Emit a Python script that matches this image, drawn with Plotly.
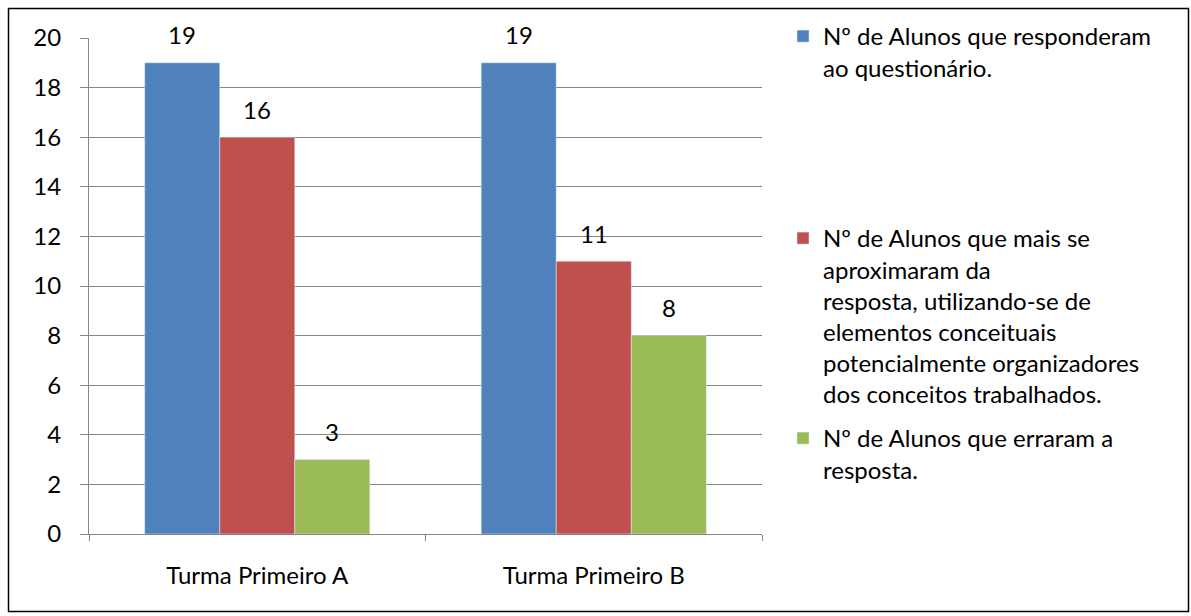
import plotly.graph_objects as go

# Turmas avaliadas
turmas = ["Turma Primeiro A", "Turma Primeiro B"]

# Séries de respostas por turma
responderam = [19, 19]
aproximaram = [16, 11]
erraram = [3, 8]

nomes = [
    "Nº de Alunos que responderam<br>ao questionário.",
    "Nº de Alunos que mais se<br>aproximaram da<br>resposta, utilizando-se de<br>elementos conceituais<br>potencialmente organizadores<br>dos conceitos trabalhados.",
    "Nº de Alunos que erraram a<br>resposta.",
]
cores = ["#4F81BD", "#C0504D", "#9BBB59"]
series = [responderam, aproximaram, erraram]

FONT = "Lato"
FS = 24
W, H = 1191, 616
ML, MR, MT, MB = 89, 429, 38, 82
BARGAP = 0.331

fig = go.Figure()
for i, (vals, nome, cor) in enumerate(zip(series, nomes, cores)):
    fig.add_trace(go.Bar(
        x=turmas, y=vals, name=nome, marker_color=cor, showlegend=True,
        legend=["legend", "legend2", "legend3"][i],
    ))

# Rótulos de valor acima de cada barra
plot_w = W - ML - MR
bar_px = plot_w / len(turmas) * (1 - BARGAP) / len(series)
annotations = []
for i, vals in enumerate(series):
    for t, v in zip(turmas, vals):
        annotations.append(dict(
            x=t, y=v, xref="x", yref="y", text=str(v), showarrow=False,
            xshift=(i - 1) * bar_px, yshift=28, yanchor="middle",
            font=dict(family=FONT, size=FS, color="black"),
        ))

plot_h = H - MT - MB
def px_to_paper_x(px):
    return (px - ML) / plot_w
def px_to_paper_y(py):
    return (H - MB - py) / plot_h

legend_common = dict(
    font=dict(family=FONT, size=FS, color="black"),
    bgcolor="rgba(0,0,0,0)", xanchor="left", yanchor="top",
    valign="top", itemclick=False, visible=True,
)

fig.update_layout(
    width=W, height=H,
    margin=dict(l=ML, r=MR, t=MT, b=MB),
    paper_bgcolor="white", plot_bgcolor="white",
    barmode="group", bargap=BARGAP, bargroupgap=0,
    showlegend=True,
    font=dict(family=FONT, size=FS, color="black"),
    annotations=annotations,
    legend=dict(x=px_to_paper_x(783), y=px_to_paper_y(14), **legend_common),
    legend2=dict(x=px_to_paper_x(783), y=px_to_paper_y(216), **legend_common),
    legend3=dict(x=px_to_paper_x(783), y=px_to_paper_y(416), **legend_common),
    xaxis=dict(
        showline=True, linecolor="#868686", linewidth=1,
        ticks="outside", tickson="boundaries", ticklen=6, tickcolor="#868686",
        ticklabelstandoff=20, showgrid=False,
        tickfont=dict(family=FONT, size=FS, color="black"),
    ),
    yaxis=dict(
        range=[0, 20], dtick=2, showgrid=True, gridcolor="#868686", gridwidth=1,
        showline=True, linecolor="#868686", linewidth=1,
        ticks="outside", ticklen=8, tickcolor="#868686",
        ticklabelstandoff=14, zeroline=False,
        tickfont=dict(family=FONT, size=FS, color="black"),
    ),
    shapes=[dict(
        type="rect", xref="paper", yref="paper",
        x0=px_to_paper_x(8.5), x1=px_to_paper_x(1188.5),
        y0=px_to_paper_y(611.5), y1=px_to_paper_y(8.5),
        line=dict(color="black", width=1.5), fillcolor="rgba(0,0,0,0)",
    )],
)

fig.write_html("out.html")
